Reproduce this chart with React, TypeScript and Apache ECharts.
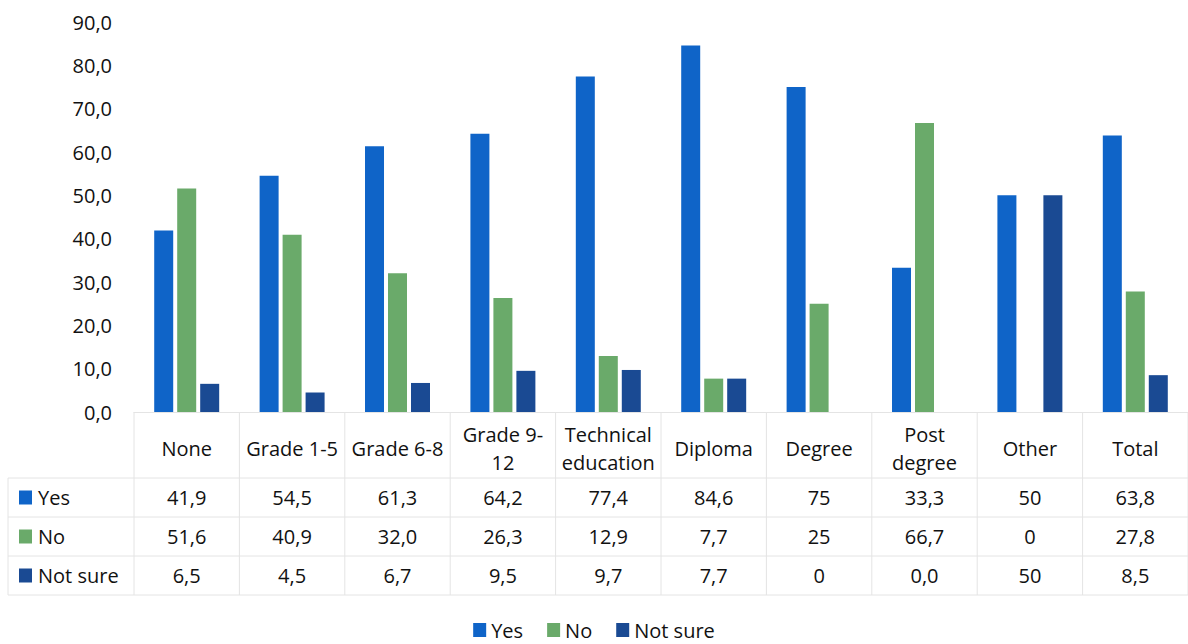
import { useEffect, useRef } from "react";
import * as echarts from "echarts";

// Education level categories (line breaks as they wrap in the table header)
const categories = [
  "None",
  "Grade 1-5",
  "Grade 6-8",
  "Grade 9-\n12",
  "Technical\neducation",
  "Diploma",
  "Degree",
  "Post\ndegree",
  "Other",
  "Total",
];

// Percentages as printed in the data table
const yesLabels = ["41,9", "54,5", "61,3", "64,2", "77,4", "84,6", "75", "33,3", "50", "63,8"];
const noLabels = ["51,6", "40,9", "32,0", "26,3", "12,9", "7,7", "25", "66,7", "0", "27,8"];
const notSureLabels = ["6,5", "4,5", "6,7", "9,5", "9,7", "7,7", "0", "0,0", "50", "8,5"];

const seriesNames = ["Yes", "No", "Not sure"];
const seriesColors = ["#0F64C8", "#6AAA6A", "#1A4A93"];

const yMin = 0;
const yMax = 90;
const yStep = 10;

const toNumber = (s: string) => parseFloat(s.replace(",", "."));
const yes = yesLabels.map(toNumber);
const no = noLabels.map(toNumber);
const notSure = notSureLabels.map(toNumber);

const FONT = "'Open Sans', sans-serif";
const TEXT = "#111111";
const RULE = "#e4e4e4";

export default function App() {
  const ref = useRef<HTMLDivElement>(null);

  useEffect(() => {
    if (!ref.current) return;
    const chart = echarts.init(ref.current, undefined, { renderer: "svg" });

    const values = [yes, no, notSure];
    const labels = [yesLabels, noLabels, notSureLabels];

    chart.setOption({
      animation: false,
      backgroundColor: "#ffffff",
      textStyle: { fontFamily: FONT },
      grid: { left: 134, top: 22, width: 1058, height: 390, containLabel: false },
      legend: {
        data: seriesNames,
        top: 619,
        left: "center",
        padding: 0,
        icon: "rect",
        itemWidth: 13,
        itemHeight: 14,
        itemGap: 24,
        textStyle: { fontFamily: FONT, fontSize: 20, lineHeight: 22, color: TEXT },
      },
      xAxis: {
        type: "category",
        data: categories,
        axisLine: { show: true, lineStyle: { color: RULE } },
        axisTick: { show: false },
        axisLabel: {
          interval: 0,
          margin: 36,
          fontFamily: FONT,
          fontSize: 20,
          lineHeight: 28,
          color: TEXT,
          verticalAlign: "middle",
          align: "center",
        },
      },
      yAxis: {
        type: "value",
        min: yMin,
        max: yMax,
        interval: yStep,
        axisLine: { show: false },
        axisTick: { show: false },
        splitLine: { show: false },
        axisLabel: {
          margin: 22,
          fontFamily: FONT,
          fontSize: 20,
          color: TEXT,
          formatter: (v: number) => v.toFixed(1).replace(".", ","),
        },
      },
      series: seriesNames.map((name, i) => ({
        name,
        type: "bar",
        data: values[i],
        barWidth: 19,
        barGap: "21%",
        itemStyle: { color: seriesColors[i] },
      })),
    });

    // Data table under the plot, aligned with the category axis
    const rowTop = 478;
    const rowH = 39;
    const tableLeft = 8;
    const origin = chart.convertToPixel({ gridIndex: 0 }, [0, 0]) as number[];
    const zeroY = origin[1];
    const bandW =
      (chart.convertToPixel({ xAxisIndex: 0 }, 1) as number) -
      (chart.convertToPixel({ xAxisIndex: 0 }, 0) as number);
    const colLeft = (chart.convertToPixel({ xAxisIndex: 0 }, 0) as number) - bandW / 2;
    const colRight = colLeft + bandW * categories.length;
    const tableBottom = rowTop + rowH * seriesNames.length;

    const elements: any[] = [];
    // horizontal rules
    for (let r = 0; r <= seriesNames.length; r++) {
      const y = rowTop + r * rowH;
      elements.push({
        type: "line",
        shape: { x1: tableLeft, y1: y, x2: colRight, y2: y },
        style: { stroke: RULE, lineWidth: 1 },
        silent: true,
      });
    }
    // vertical rules
    elements.push({
      type: "line",
      shape: { x1: tableLeft, y1: rowTop, x2: tableLeft, y2: tableBottom },
      style: { stroke: RULE, lineWidth: 1 },
      silent: true,
    });
    for (let c = 0; c <= categories.length; c++) {
      const x = colLeft + c * bandW;
      elements.push({
        type: "line",
        shape: { x1: x, y1: zeroY, x2: x, y2: tableBottom },
        style: { stroke: RULE, lineWidth: 1 },
        silent: true,
      });
    }
    // row headers with series keys
    seriesNames.forEach((name, r) => {
      const cy = rowTop + r * rowH + rowH / 2;
      elements.push({
        type: "rect",
        shape: { x: 19, y: cy - 7, width: 13, height: 14 },
        style: { fill: seriesColors[r] },
        silent: true,
      });
      elements.push({
        type: "text",
        x: 38,
        y: cy,
        style: {
          text: name,
          fontFamily: FONT,
          fontSize: 20,
          fill: TEXT,
          align: "left",
          verticalAlign: "middle",
        },
        silent: true,
      });
      // cell values
      labels[r].forEach((txt, c) => {
        const x = chart.convertToPixel({ xAxisIndex: 0 }, c) as number;
        elements.push({
          type: "text",
          x,
          y: cy,
          style: {
            text: txt,
            fontFamily: FONT,
            fontSize: 20,
            fill: TEXT,
            align: "center",
            verticalAlign: "middle",
          },
          silent: true,
        });
      });
    });

    chart.setOption({ graphic: { elements } });

    return () => chart.dispose();
  }, []);

  return (
    <div
      ref={ref}
      style={{ position: "absolute", left: 0, top: 0, width: 1188, height: 644, background: "#fff" }}
    />
  );
}
